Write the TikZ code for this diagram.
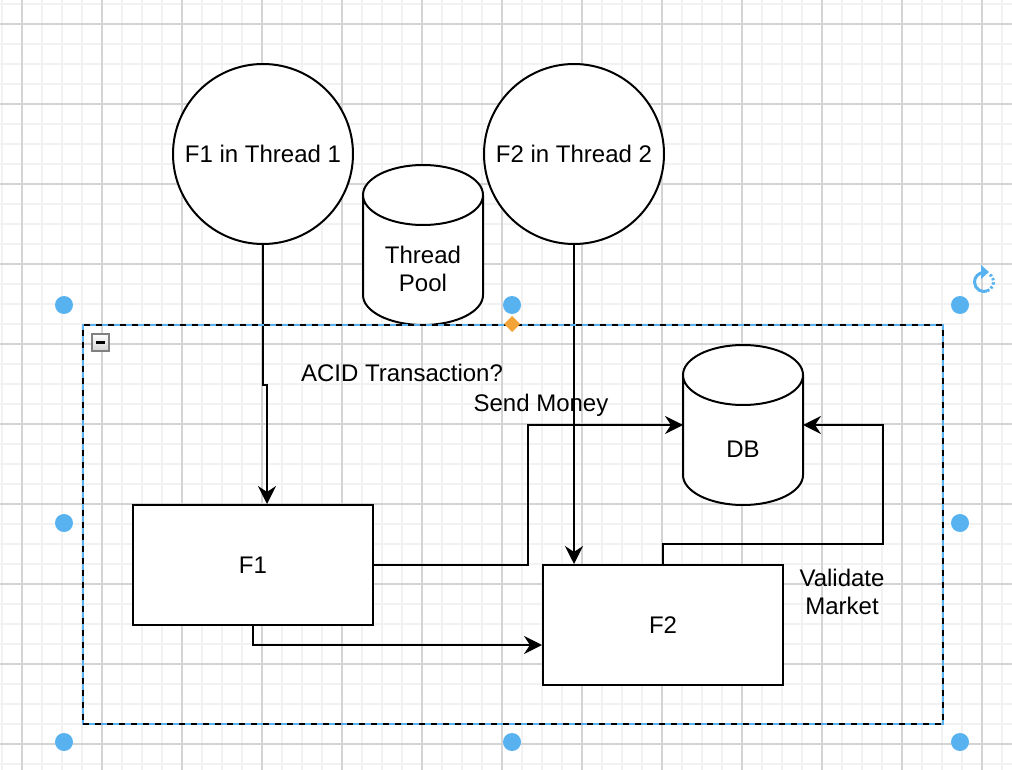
\documentclass[tikz,border=0pt]{standalone}
\usepackage{fontspec}
\setmainfont{Liberation Sans}
\usepackage{tikz}
\usetikzlibrary{arrows.meta}
\usetikzlibrary{calc}
\tikzset{>={Stealth[length=9pt,width=9pt,inset=3pt]}}
\newcommand{\drawcyl}[2]{% {node}{label}
	\draw[fill=white, line width=1pt] ([yshift=-15pt]#1.north west) -- ([yshift=15pt]#1.south west) arc[start angle=180, end angle=360, x radius=30pt, y radius=15pt] -- ([yshift=-15pt]#1.north east) arc[start angle=0, end angle=180, x radius=30pt, y radius=15pt] arc[start angle=180, end angle=360, x radius=30pt, y radius=15pt]; % body
	\node[align=center, inner sep=0pt] (#1-text) at ([yshift=-12pt]#1.center) {#2}; % label
}
\definecolor{selblue}{RGB}{88,178,240}
\definecolor{handleorange}{RGB}{242,164,56}
\definecolor{gridminor}{RGB}{242,242,242}
\definecolor{gridmajor}{RGB}{212,212,212}
\tikzset{
	box/.style={draw, fill=white, line width=1pt, minimum width=120pt, minimum height=60pt, inner sep=0pt},
	thread/.style={draw, fill=white, circle, line width=1pt, minimum size=90pt, inner sep=0pt},
	cylbox/.style={minimum width=60pt, minimum height=80pt, inner sep=0pt, outer sep=0pt},
	conn/.style={->, line width=1pt},
	grpframe/.style={draw, line width=1pt, dash pattern=on 3pt off 3pt, minimum width=430pt, minimum height=199.5pt, preaction={draw=selblue, solid, line width=1pt}}
}

\begin{document}
\begin{tikzpicture}[x=0.5pt, y=-0.5pt, font=\fontsize{12}{14.4}\selectfont]
	\useasboundingbox (0,0) rectangle (1012,770);
	\fill[white] (0,0) rectangle (1012,770);

	% grid
	\foreach \x in {2,22,...,1012} \draw[gridminor, line width=1pt] (\x,0) -- (\x,770);
	\foreach \y in {4,24,...,770} \draw[gridminor, line width=1pt] (0,\y) -- (1012,\y);
	\foreach \x in {22,102,...,1012} \draw[gridmajor, line width=0.6pt] (\x,0) -- (\x,770);
	\foreach \y in {24,104,...,770} \draw[gridmajor, line width=0.6pt] (0,\y) -- (1012,\y);

	\node[thread] (f1c) at (263,154) {F1 in Thread 1};
	\node[thread] (f2c) at (574,154) {F2 in Thread 2};

	\node[cylbox] (pool) at (423,245) {};
	\drawcyl{pool}{Thread\\Pool}
	\node[cylbox] (db) at (743,425) {};
	\drawcyl{db}{DB}

	\node[box] (f1) at (253,565) {F1};
	\node[box] (f2) at (663,625) {F2};

	\node[anchor=base] (acid) at (402,381.7) {ACID Transaction?};
	\node[anchor=base] (send) at (541,411.5) {Send Money};
	\node[align=center] (valid) at (842,592) {Validate\\Market};

	\draw[conn] (f1c.south) -- ([yshift=-70pt]f1c.south) -| ([xshift=7pt]f1.north);
	\draw[conn] (f2c.south) -- (f2c.south |- f2.north);
	\draw[conn] (f1.east) -- ++(77pt,0) |- (db.west);
	\draw[conn] (f1.south) |- ([yshift=-10pt]f2.west);
	\draw[conn] (f2.north) -- ([yshift=10pt]f2.north) -| ([xshift=40pt]db.east) -- (db.east);

	% selection
	\node[grpframe] (grp) at (513,524.5) {};
	\draw[gray, line width=1pt, top color=white, bottom color=gray!35] (92,334) rectangle (109,351);
	\draw[line width=1.2pt] (96,342.5) -- (105,342.5);
	\foreach \p in {(64,305),(512,305),(960,305),(64,523),(960,523),(64,742),(512,742),(960,742)}
		\fill[selblue] \p circle[radius=4.5pt];
	\fill[handleorange] (512,316) -- (520,324) -- (512,332) -- (504,324) -- cycle;
	\draw[selblue, line width=1.5pt] (984,282) ++(90:4.75pt) arc[start angle=90, end angle=290, radius=4.75pt];
	\draw[selblue, line width=1.5pt, dash pattern=on 1.2pt off 1pt] (984,282) ++(290:4.75pt) arc[start angle=290, end angle=420, radius=4.75pt];
	\fill[selblue] (981,265) -- (989,272) -- (981,279) -- cycle;

\end{tikzpicture}
\end{document}
